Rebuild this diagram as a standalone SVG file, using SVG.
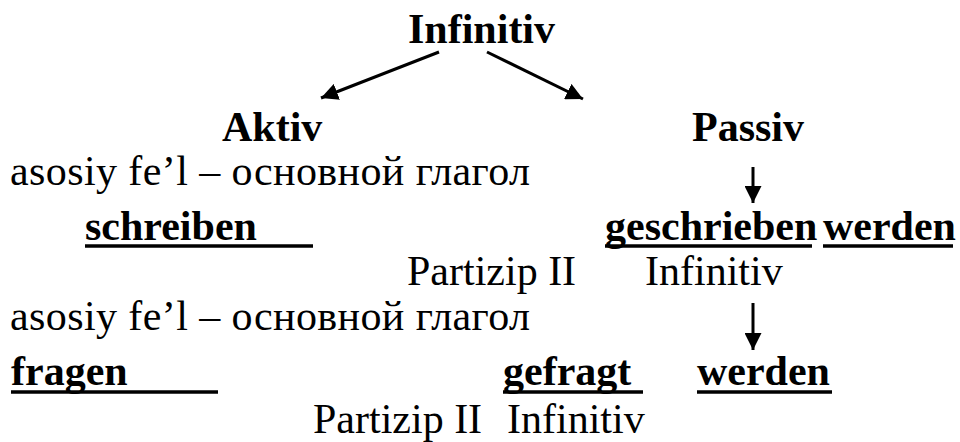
<svg xmlns="http://www.w3.org/2000/svg" width="960" height="442" viewBox="0 0 960 442">
<defs>
<style>
.b{font-family:"Liberation Serif","Times New Roman",Tinos,serif;font-weight:bold;font-size:42px;fill:#000}
.r{font-family:"Liberation Serif","Times New Roman",Tinos,serif;font-weight:normal;font-size:42px;fill:#000}
.c{stroke:#000;stroke-width:3;fill:none}
.u{stroke:#000;stroke-width:3.5}
</style>
<marker id="ah2" viewBox="0 0 10 10" refX="10" refY="5" markerWidth="17" markerHeight="17" markerUnits="userSpaceOnUse" orient="auto">
<path d="M0,0L10,5L0,10z" fill="#000"/>
</marker>
</defs>
<g id="connectors">
<line class="c" x1="439" y1="52" x2="321" y2="98" marker-end="url(#ah2)"/>
<line class="c" x1="487" y1="52" x2="583" y2="99" marker-end="url(#ah2)"/>
<line class="c" x1="753" y1="167" x2="753" y2="203" stroke-width="2.5" marker-end="url(#ah2)"/>
<line class="c" x1="753" y1="303" x2="753" y2="350" stroke-width="2.5" marker-end="url(#ah2)"/>
</g>
<g id="infinitiv"><text class="b" x="408" y="43">Infinitiv</text></g>
<g id="aktiv"><text class="b" x="222" y="141">Aktiv</text></g>
<g id="passiv"><text class="b" x="692" y="141">Passiv</text></g>
<g id="aktiv-desc1"><text class="r" x="10" y="185" textLength="520" lengthAdjust="spacing">asosiy fe’l – основной глагол</text></g>
<g id="schreiben"><text class="b" x="85" y="240">schreiben</text><line class="u" x1="85" y1="246" x2="313" y2="246"/></g>
<g id="geschrieben"><text class="b" x="605" y="240">geschrieben</text><line class="u" x1="605" y1="246" x2="812" y2="246"/></g>
<g id="werden1"><text class="b" x="823" y="240">werden</text><line class="u" x1="823" y1="246" x2="953" y2="246"/></g>
<g id="labels1"><text class="r" x="407" y="285">Partizip II</text><text class="r" x="645" y="285">Infinitiv</text></g>
<g id="aktiv-desc2"><text class="r" x="10" y="330" textLength="520" lengthAdjust="spacing">asosiy fe’l – основной глагол</text></g>
<g id="fragen"><text class="b" x="11" y="385">fragen</text><line class="u" x1="11" y1="392" x2="218" y2="392"/></g>
<g id="gefragt"><text class="b" x="503" y="385">gefragt</text><line class="u" x1="503" y1="392" x2="643" y2="392"/></g>
<g id="werden2"><text class="b" x="697" y="385">werden</text><line class="u" x1="697" y1="392" x2="832" y2="392"/></g>
<g id="labels2"><text class="r" x="313" y="433">Partizip II</text><text class="r" x="507" y="433">Infinitiv</text></g>
</svg>
